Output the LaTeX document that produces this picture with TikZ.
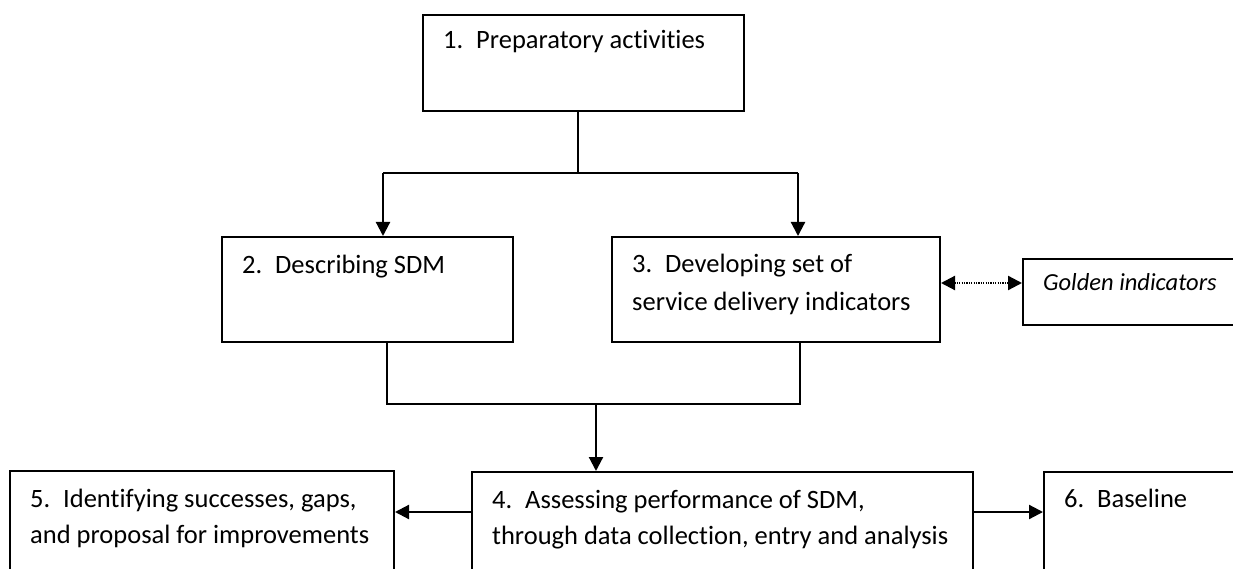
\documentclass[tikz,border=0pt]{standalone}
\usepackage{fontspec}
\setmainfont{Carlito}[Ligatures=NoCommon]
\usetikzlibrary{arrows.meta,calc}
\tikzset{
  box/.style={draw, line width=2pt, anchor=north west, inner sep=0pt},
  txt/.style={anchor=base west, inner sep=0pt, align=left, font=\fontsize{26.5}{37}\selectfont},
  conn/.style={line width=2.2pt},
  arr/.style={line width=2.2pt, -{Triangle[width=14pt,length=14pt]}},
  darr/.style={line width=2.2pt, dash pattern=on 1.2pt off 1.2pt, {Triangle[width=14pt,length=14pt]}-{Triangle[width=14pt,length=14pt]}}
}
\newcommand{\numlbl}[1]{\makebox[33pt][l]{#1}}
\begin{document}
\begin{tikzpicture}[x=1pt,y=-1pt]
\useasboundingbox (0,0) rectangle (1233,569);
\clip (0,0) rectangle (1233,569);
% boxes
\node[box, minimum width=321pt, minimum height=96pt] (b1) at (422,14) {};
\node[box, minimum width=291pt, minimum height=105pt] (b2) at (221,236) {};
\node[box, minimum width=328pt, minimum height=105pt] (b3) at (611,236) {};
\node[box, minimum width=230pt, minimum height=66pt] (bg) at (1022,258) {};
\node[box, minimum width=501pt, minimum height=120pt] (b4) at (471,471) {};
\node[box, minimum width=384pt, minimum height=120pt] (b5) at (9,470) {};
\node[box, minimum width=300pt, minimum height=120pt] (b6) at (1043,471) {};
% texts (base anchor = baseline of last line)
\node[txt] (t1) at (443,49) {\numlbl{1.}Preparatory activities};
\node[txt] (t2) at (242,273) {\numlbl{2.}Describing SDM};
\node[txt, font=\fontsize{26.5}{38}\selectfont] (t3) at (632,310) {\numlbl{3.}Developing set of\\service delivery indicators};
\node[txt, font=\fontsize{24.5}{30}\selectfont\itshape] (tg) at (1043,290) {Golden indicators};
\node[txt, font=\fontsize{26.5}{36}\selectfont] (t4) at (492,544) {\numlbl{4.}Assessing performance of SDM,\\through data collection, entry and analysis};
\node[txt, font=\fontsize{26.5}{36}\selectfont] (t5) at (30,543) {\numlbl{5.}Identifying successes, gaps,\\and proposal for improvements};
\node[txt] (t6) at (1064,507) {\numlbl{6.}Baseline};
% connector coordinates
\coordinate (j1) at (578,173);
\coordinate (a2) at (383,173);
\coordinate (a3) at (798,173);
\coordinate (j2) at (387,404);
\coordinate (j3) at (800,404);
\coordinate (j4) at (596,404);
\coordinate (m) at (0,512);
\coordinate (g) at (0,283);
% connectors
\draw[conn] (b1.south -| j1) -- (j1);
\draw[conn] (a2) -- (a3);
\draw[arr] (a2) -- (b2.north -| a2);
\draw[arr] (a3) -- (b3.north -| a3);
\draw[conn] (b2.south -| j2) -- (j2) -- (j3) -- (b3.south -| j3);
\draw[arr] (j4) -- (b4.north -| j4);
\draw[arr] (b4.west |- m) -- (b5.east |- m);
\draw[arr] (b4.east |- m) -- (b6.west |- m);
\draw[darr] (b3.east |- g) -- (bg.west |- g);
\end{tikzpicture}
\end{document}
